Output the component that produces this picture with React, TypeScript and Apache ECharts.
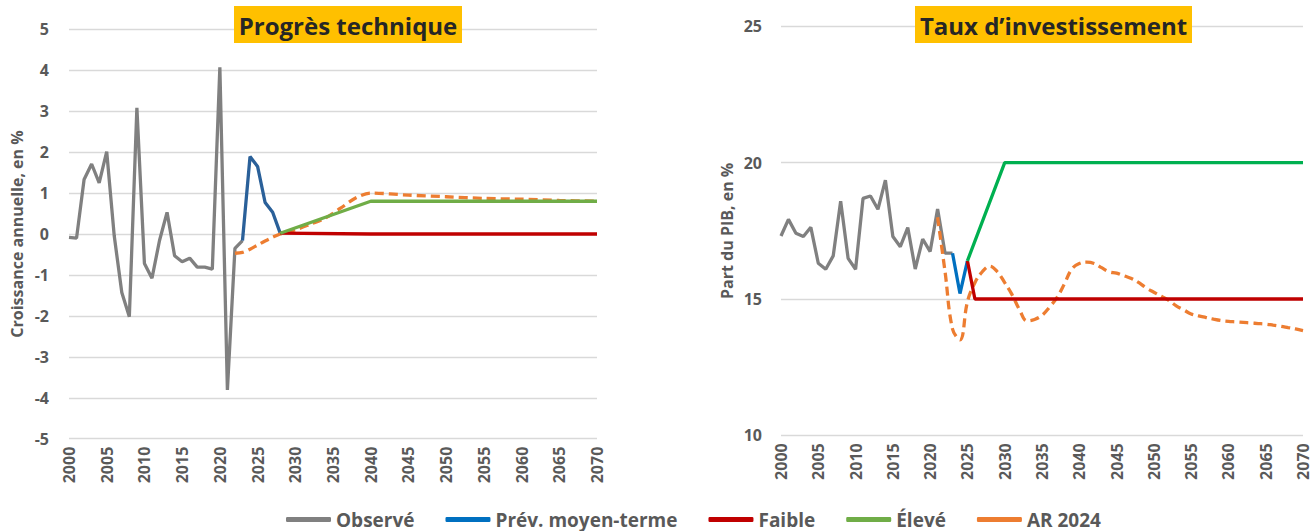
import React, { useEffect, useRef } from "react";
import * as echarts from "echarts";

const FONT = '"Open Sans", "Noto Sans", "DejaVu Sans", sans-serif';

// ---------- Data ----------
const xTickYears = [2000, 2070];

// Left panel: Progrès technique (croissance annuelle, en %)
const leftObserved: [number, number][] = [
  [2000, -0.08], [2001, -0.1], [2002, 1.33], [2003, 1.71], [2004, 1.25], [2005, 2.01],
  [2006, -0.05], [2007, -1.43], [2008, -2.02], [2009, 3.08], [2010, -0.72], [2011, -1.08],
  [2012, -0.16], [2013, 0.53], [2014, -0.53], [2015, -0.68], [2016, -0.59], [2017, -0.81],
  [2018, -0.81], [2019, -0.86], [2020, 4.07], [2021, -3.81], [2022, -0.35], [2023, -0.16],
];
const leftForecast: [number, number][] = [
  [2023, -0.16], [2024, 1.89], [2025, 1.65], [2026, 0.77], [2027, 0.53], [2028, 0.02],
];
const leftLow: [number, number][] = [[2028, 0.02], [2040, 0.0], [2070, 0.0]];
const leftHigh: [number, number][] = [[2028, 0.02], [2040, 0.8], [2070, 0.8]];
const leftAR2024: [number, number][] = [
  [2022, -0.47], [2023, -0.45], [2024, -0.37], [2025, -0.27], [2026, -0.17], [2027, -0.08],
  [2028, 0.0], [2030, 0.1], [2032, 0.24], [2034, 0.39], [2036, 0.63], [2038, 0.88],
  [2040, 1.0], [2045, 0.95], [2050, 0.91], [2055, 0.87], [2060, 0.85], [2065, 0.82], [2070, 0.8],
];

// Right panel: Taux d'investissement (part du PIB, en %)
const rightObserved: [number, number][] = [
  [2000, 17.31], [2001, 17.92], [2002, 17.41], [2003, 17.29], [2004, 17.63], [2005, 16.31],
  [2006, 16.09], [2007, 16.58], [2008, 18.59], [2009, 16.49], [2010, 16.09], [2011, 18.69],
  [2012, 18.78], [2013, 18.29], [2014, 19.36], [2015, 17.29], [2016, 16.92], [2017, 17.62],
  [2018, 16.1], [2019, 17.2], [2020, 16.74], [2021, 18.3], [2022, 16.68], [2023, 16.68],
];
const rightForecast: [number, number][] = [[2023, 16.68], [2024, 15.2], [2025, 16.4]];
const rightLow: [number, number][] = [[2025, 16.4], [2026, 15.0], [2070, 15.0]];
const rightHigh: [number, number][] = [[2025, 16.4], [2030, 20.0], [2070, 20.0]];
const rightAR2024: [number, number][] = [
  [2021, 18.0], [2022, 16.0], [2023, 13.9], [2024, 13.5], [2025, 14.9], [2026, 15.6],
  [2027, 16.0], [2028, 16.2], [2029, 16.0], [2030, 15.6], [2031, 15.15], [2032, 14.6],
  [2033, 14.2], [2034, 14.25], [2035, 14.4], [2036, 14.7], [2037, 15.05], [2038, 15.55],
  [2039, 16.1], [2040, 16.3], [2041, 16.35], [2042, 16.3], [2043, 16.15], [2044, 16.0],
  [2045, 15.95], [2046, 15.85], [2047, 15.75], [2048, 15.6], [2049, 15.4], [2050, 15.25],
  [2051, 15.1], [2052, 14.95], [2053, 14.75], [2054, 14.6], [2055, 14.45], [2056, 14.38],
  [2057, 14.32], [2058, 14.26], [2059, 14.21], [2060, 14.18], [2061, 14.16], [2062, 14.14],
  [2063, 14.12], [2064, 14.1], [2065, 14.08], [2066, 14.04], [2067, 14.0], [2068, 13.95],
  [2069, 13.9], [2070, 13.84],
];

const titles = ["Progrès technique", "Taux d’investissement"];
const yAxisNames = ["Croissance annuelle, en %", "Part du PIB, en %"];
const seriesNames = ["Observé", "Prév. moyen-terme", "Faible", "Élevé", "AR 2024"];
const legendColors = ["#808080", "#0070C0", "#C00000", "#70AD47", "#ED7D31"];

// ---------- Component ----------
export default function App() {
  const ref = useRef<HTMLDivElement>(null);

  useEffect(() => {
    if (!ref.current) return;
    const chart = echarts.init(ref.current, undefined, { renderer: "svg" });

    const labelStyle = { fontFamily: FONT, fontWeight: "bold" as const, fontSize: 16, color: "#595959" };

    const line = (
      name: string,
      data: [number, number][],
      color: string,
      idx: number,
      extra: any = {}
    ) => ({
      type: "line",
      name,
      data,
      xAxisIndex: idx,
      yAxisIndex: idx,
      showSymbol: false,
      symbol: "none",
      lineStyle: { color, width: 3.3, ...(extra.lineStyle || {}) },
      itemStyle: { color },
      smooth: extra.smooth || false,
      z: 2,
    });

    const dash = { type: [9, 5], cap: "butt" };

    const xAxis = (idx: number) => ({
      type: "value",
      gridIndex: idx,
      min: xTickYears[0],
      max: xTickYears[1],
      interval: 5,
      axisLine: { show: false },
      axisTick: { show: false },
      splitLine: { show: false },
      axisLabel: { ...labelStyle, rotate: 90, margin: 8, formatter: (v: number) => String(v) },
    });

    const option: any = {
      animation: false,
      backgroundColor: "#ffffff",
      textStyle: { fontFamily: FONT },
      grid: [
        { left: 69, top: 29.3, width: 528, height: 409.4 },
        { left: 781, top: 26.4, width: 522, height: 408.9 },
      ],
      xAxis: [xAxis(0), xAxis(1)],
      yAxis: [
        {
          type: "value",
          gridIndex: 0,
          min: -5,
          max: 5,
          interval: 1,
          name: yAxisNames[0],
          nameLocation: "middle",
          nameRotate: 90,
          nameGap: 44,
          nameTextStyle: { ...labelStyle, fontSize: 16 },
          axisLine: { show: false },
          axisTick: { show: false },
          axisLabel: { ...labelStyle, margin: 20 },
          splitLine: { lineStyle: { color: "#D9D9D9", width: 1.3 } },
        },
        {
          type: "value",
          gridIndex: 1,
          min: 10,
          max: 25,
          interval: 5,
          name: yAxisNames[1],
          nameLocation: "middle",
          nameRotate: 90,
          nameGap: 46,
          nameTextStyle: { ...labelStyle, fontSize: 16 },
          axisLine: { show: false },
          axisTick: { show: false },
          axisLabel: { ...labelStyle, margin: 19 },
          splitLine: { lineStyle: { color: "#D9D9D9", width: 1.3 } },
        },
      ],
      legend: {
        left: 281,
        top: 505,
        icon: "roundRect",
        itemWidth: 45,
        itemHeight: 5,
        itemGap: 31,
        selectedMode: false,
        textStyle: { fontFamily: FONT, fontWeight: "bold", fontSize: 19, color: "#595959" },
        data: seriesNames.map((n, i) => ({
          name: n,
          icon: "roundRect",
          itemStyle: { color: legendColors[i] },
          lineStyle: { color: legendColors[i], type: "solid" },
        })),
      },
      graphic: [
        {
          type: "group",
          z: 100,
          children: [
            {
              type: "rect",
              z: 100,
              shape: { x: 234, y: 6, width: 228, height: 37 },
              style: { fill: "#FFC000" },
            },
            {
              type: "text",
              z: 101,
              x: 348,
              y: 25,
              style: {
                text: titles[0],
                fontFamily: FONT,
                fontWeight: "bold",
                fontSize: 24,
                fill: "#262626",
                align: "center",
                verticalAlign: "middle",
              },
            },
            {
              type: "rect",
              z: 100,
              shape: { x: 915, y: 6, width: 277, height: 37 },
              style: { fill: "#FFC000" },
            },
            {
              type: "text",
              z: 101,
              x: 1053.5,
              y: 25,
              style: {
                text: titles[1],
                fontFamily: FONT,
                fontWeight: "bold",
                fontSize: 24,
                fill: "#262626",
                align: "center",
                verticalAlign: "middle",
              },
            },
          ],
        },
      ],
      series: [
        line(seriesNames[0], leftObserved, "#808080", 0),
        line(seriesNames[1], leftForecast, "#2A6099", 0),
        line(seriesNames[4], leftAR2024, "#ED7D31", 0, { lineStyle: dash, smooth: 0.3 }),
        line(seriesNames[2], leftLow, "#C00000", 0),
        line(seriesNames[3], leftHigh, "#70AD47", 0),
        line(seriesNames[0], rightObserved, "#808080", 1),
        line(seriesNames[1], rightForecast, "#0070C0", 1),
        line(seriesNames[4], rightAR2024, "#ED7D31", 1, { lineStyle: dash, smooth: 0.4 }),
        line(seriesNames[2], rightLow, "#C00000", 1),
        line(seriesNames[3], rightHigh, "#00B050", 1),
      ],
    };

    chart.setOption(option);
    return () => chart.dispose();
  }, []);

  return (
    <div
      ref={ref}
      style={{ position: "fixed", left: 0, top: 0, width: 1313, height: 531, background: "#fff" }}
    />
  );
}
